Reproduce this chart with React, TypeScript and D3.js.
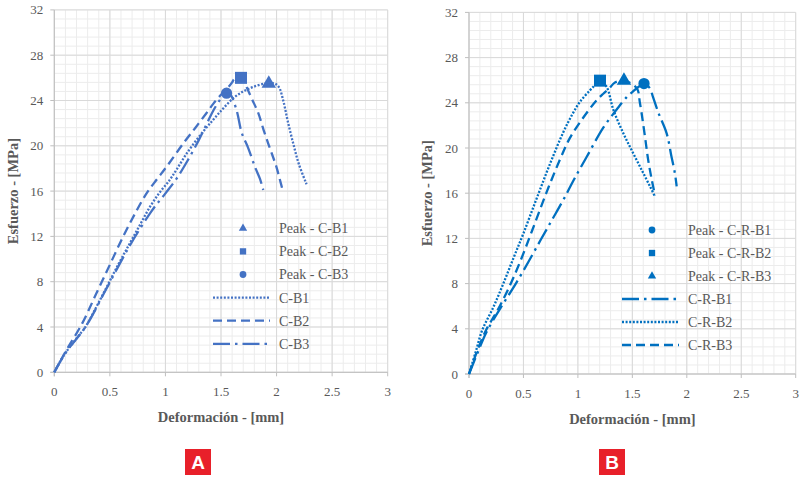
import React from 'react';
import * as d3 from 'd3';

type Pt = [number, number];

const xTicks = [0, 0.5, 1, 1.5, 2, 2.5, 3];
const yTicks = [0, 4, 8, 12, 16, 20, 24, 28, 32];
const xTickLabels = ['0', '0.5', '1', '1.5', '2', '2.5', '3'];
const yTickLabels = ['0', '4', '8', '12', '16', '20', '24', '28', '32'];

// Panel A series
const cB1: Pt[] = [[0, 0], [0.05, 0.9], [0.1, 1.7], [0.2, 3.0], [0.28, 4], [0.38, 5.8], [0.47, 7.5], [0.58, 9.6], [0.68, 11.4], [0.77, 13.0], [0.86, 14.6], [0.95, 15.9], [1.04, 17.0], [1.1, 17.9], [1.19, 19.3], [1.31, 20.9], [1.43, 22.3], [1.52, 23.3], [1.61, 24.2], [1.7, 24.8], [1.79, 25.2], [1.9, 25.5], [1.98, 25.5], [2.02, 25.2], [2.06, 24.0], [2.1, 22.2], [2.15, 20.2], [2.2, 18.4], [2.27, 16.6]];
const cB2: Pt[] = [[0, 0], [0.1, 1.8], [0.25, 4.3], [0.38, 7.0], [0.5, 9.5], [0.62, 12.0], [0.72, 13.9], [0.83, 15.8], [0.92, 17.0], [1.01, 18.15], [1.16, 20.2], [1.27, 21.6], [1.37, 22.9], [1.43, 23.7], [1.5, 24.5], [1.56, 25.1], [1.6, 25.6], [1.62, 25.9], [1.69, 26.0], [1.73, 25.2], [1.78, 24.1], [1.835, 22.9], [1.88, 21.5], [1.925, 20.2], [1.965, 19.1], [2.0, 18.1], [2.03, 17.0], [2.06, 15.9]];
const cB3: Pt[] = [[0, 0], [0.1, 1.7], [0.28, 4], [0.47, 7.4], [0.68, 11.2], [0.88, 14.3], [1.0, 15.8], [1.1, 17.1], [1.2, 18.7], [1.3, 20.5], [1.37, 21.9], [1.43, 23.1], [1.5, 24.2], [1.544, 24.76], [1.58, 24.6], [1.64, 23.15], [1.685, 21.2], [1.745, 19.8], [1.805, 18.15], [1.85, 17.1], [1.88, 16.1]];
const peakNamesA = ['Peak - C-B1', 'Peak - C-B2', 'Peak - C-B3'];
const peakXA = [1.93, 1.68, 1.55];
const peakYA = [25.5, 26.0, 24.65];
const lineNamesA = ['C-B1', 'C-B2', 'C-B3'];

// Panel B series
const cRB1: Pt[] = [[0, 0], [0.08, 1.9], [0.16, 3.7], [0.3, 6.0], [0.43, 8.0], [0.55, 10.0], [0.66, 11.9], [0.76, 13.6], [0.866, 15.4], [0.958, 17.1], [1.08, 19.2], [1.233, 21.8], [1.356, 23.4], [1.448, 24.5], [1.5, 24.95], [1.555, 25.4], [1.607, 25.7], [1.66, 25.3], [1.69, 24.5], [1.74, 23.1], [1.815, 21.3], [1.86, 19.2], [1.89, 17.8], [1.907, 16.6]];
const cRB2: Pt[] = [[0, 0], [0.06, 1.9], [0.122, 3.9], [0.223, 5.9], [0.315, 8.0], [0.41, 10.3], [0.5, 12.45], [0.62, 15.5], [0.744, 18.6], [0.866, 21.4], [0.95, 23.0], [1.02, 24.1], [1.11, 25.1], [1.16, 25.6], [1.203, 25.96], [1.264, 25.4], [1.325, 23.4], [1.417, 21.3], [1.494, 19.8], [1.586, 18.05], [1.662, 16.6], [1.708, 15.7]];
const cRB3: Pt[] = [[0, 0], [0.07, 1.9], [0.157, 3.9], [0.26, 5.6], [0.36, 7.5], [0.468, 9.9], [0.58, 12.7], [0.713, 16.1], [0.836, 19.0], [0.927, 20.9], [1.05, 22.7], [1.17, 24.2], [1.233, 24.8], [1.29, 25.3], [1.34, 25.8], [1.423, 25.96], [1.54, 25.3], [1.57, 23.96], [1.616, 21.0], [1.646, 18.9], [1.678, 17.2], [1.708, 15.8]];
const peakNamesB = ['Peak - C-R-B1', 'Peak - C-R-B2', 'Peak - C-R-B3'];
const peakXB = [1.607, 1.203, 1.423];
const peakYB = [25.7, 25.96, 25.96];
const lineNamesB = ['C-R-B1', 'C-R-B2', 'C-R-B3'];

const FONT = "'Liberation Serif', 'DejaVu Serif', serif";
const GREY = '#595959';

type Panel = {
  x0: number; x1: number; yTop: number; yBot: number;
  color: string;
  series: Pt[][]; dashes: string[]; lineNames: string[];
  peakNames: string[]; peakX: number[]; peakY: number[]; shapes: d3.SymbolType[];
  legX: number; legY: number; legStep: number;
  yTitleX: number; badge: string; badgeX: number;
};

const dotted = '2 1.6';
const dashed = '9 5';
const dashDot = '17 5 2.5 5';

function ChartPanel({ p }: { p: Panel }) {
  const x = d3.scaleLinear().domain([0, 3]).range([p.x0, p.x1]);
  const y = d3.scaleLinear().domain([0, 32]).range([p.yBot, p.yTop]);
  const line = d3.line<Pt>().x(d => x(d[0])).y(d => y(d[1])).curve(d3.curveCatmullRom);
  const minorX = d3.range(0, 3.0001, 0.1);
  const minorY = d3.range(0, 32.0001, 0.8);
  const cx = (p.x0 + p.x1) / 2;
  const cy = (p.yTop + p.yBot) / 2;
  const bigSize = (s: d3.SymbolType) => (s === d3.symbolSquare ? 144 : s === d3.symbolCircle ? 100 : 90);
  const smallSize = (s: d3.SymbolType) => (s === d3.symbolSquare ? 40 : s === d3.symbolCircle ? 36 : 30);
  return (
    <g>
      {minorX.map((v, i) => <line key={'mx' + i} x1={x(v)} x2={x(v)} y1={p.yTop} y2={p.yBot} stroke="#ececec" strokeWidth={1} />)}
      {minorY.map((v, i) => <line key={'my' + i} y1={y(v)} y2={y(v)} x1={p.x0} x2={p.x1} stroke="#ececec" strokeWidth={1} />)}
      {xTicks.map((v, i) => <line key={'gx' + i} x1={x(v)} x2={x(v)} y1={p.yTop} y2={p.yBot} stroke="#d9d9d9" strokeWidth={1} />)}
      {yTicks.map((v, i) => <line key={'gy' + i} y1={y(v)} y2={y(v)} x1={p.x0} x2={p.x1} stroke="#d9d9d9" strokeWidth={1} />)}
      <line x1={p.x0} x2={p.x0} y1={p.yTop} y2={p.yBot + 4} stroke="#bfbfbf" />
      <line x1={p.x0 - 4} x2={p.x1} y1={p.yBot} y2={p.yBot} stroke="#bfbfbf" />
      {yTicks.map((v, i) => <line key={'ty' + i} x1={p.x0 - 4} x2={p.x0} y1={y(v)} y2={y(v)} stroke="#bfbfbf" />)}
      {xTicks.map((v, i) => <line key={'tx' + i} x1={x(v)} x2={x(v)} y1={p.yBot} y2={p.yBot + 4} stroke="#bfbfbf" />)}
      {yTicks.map((v, i) => (
        <text key={'ly' + i} x={p.x0 - 11} y={y(v)} dy="0.35em" textAnchor="end" fontFamily={FONT} fontSize={13} fill={GREY}>{yTickLabels[i]}</text>
      ))}
      {xTicks.map((v, i) => (
        <text key={'lx' + i} x={x(v)} y={p.yBot + 24} textAnchor="middle" fontFamily={FONT} fontSize={13} fill={GREY}>{xTickLabels[i]}</text>
      ))}
      {p.series.map((s, i) => (
        <path key={'s' + i} d={line(s) || ''} fill="none" stroke={p.color} strokeWidth={2.3} strokeDasharray={p.dashes[i]} />
      ))}
      {p.peakX.map((v, i) => (
        <path key={'pk' + i} transform={`translate(${x(v)},${y(p.peakY[i])})`} d={d3.symbol().type(p.shapes[i]).size(bigSize(p.shapes[i]))() || ''} fill={p.color} />
      ))}
      {p.peakNames.map((n, i) => {
        const ly = p.legY + i * p.legStep;
        return (
          <g key={'lp' + i}>
            <path transform={`translate(${p.legX + 30},${ly})`} d={d3.symbol().type(p.shapes[i]).size(smallSize(p.shapes[i]))() || ''} fill={p.color} />
            <text x={p.legX + 66} y={ly} dy="0.35em" fontFamily={FONT} fontSize={14} fill={GREY}>{n}</text>
          </g>
        );
      })}
      {p.lineNames.map((n, i) => {
        const ly = p.legY + (i + 3) * p.legStep;
        return (
          <g key={'ll' + i}>
            <line x1={p.legX} x2={p.legX + 57} y1={ly} y2={ly} stroke={p.color} strokeWidth={2.3} strokeDasharray={p.dashes[i]} />
            <text x={p.legX + 66} y={ly} dy="0.35em" fontFamily={FONT} fontSize={14} fill={GREY}>{n}</text>
          </g>
        );
      })}
      <text x={cx} y={p.yBot + 50} textAnchor="middle" fontFamily={FONT} fontWeight="bold" fontSize={14.5} fill={GREY}>Deformación - [mm]</text>
      <text transform={`translate(${p.yTitleX},${cy}) rotate(-90)`} textAnchor="middle" fontFamily={FONT} fontWeight="bold" fontSize={14.5} fill={GREY}>Esfuerzo - [MPa]</text>
      <rect x={p.badgeX} y={449} width={26} height={26} fill="#e8202a" />
      <text x={p.badgeX + 13} y={469} textAnchor="middle" fontFamily="'Liberation Sans Narrow', 'Liberation Sans', sans-serif" fontWeight="bold" fontSize={19} fill="#fff">{p.badge}</text>
    </g>
  );
}

export default function App() {
  const panelA: Panel = {
    x0: 54.3, x1: 387.7, yTop: 9.9, yBot: 372.3, color: '#4472C4',
    series: [cB1, cB2, cB3], dashes: [dotted, dashed, dashDot], lineNames: lineNamesA,
    peakNames: peakNamesA, peakX: peakXA, peakY: peakYA,
    shapes: [d3.symbolTriangle, d3.symbolSquare, d3.symbolCircle],
    legX: 213, legY: 228.3, legStep: 23.1, yTitleX: 18, badge: 'A', badgeX: 185,
  };
  const panelB: Panel = {
    x0: 469, x1: 795.7, yTop: 12.4, yBot: 374, color: '#0070C0',
    series: [cRB1, cRB2, cRB3], dashes: [dashDot, dotted, dashed], lineNames: lineNamesB,
    peakNames: peakNamesB, peakX: peakXB, peakY: peakYB,
    shapes: [d3.symbolCircle, d3.symbolSquare, d3.symbolTriangle],
    legX: 622, legY: 230, legStep: 23, yTitleX: 432, badge: 'B', badgeX: 599,
  };
  return (
    <svg width={802} height={482} style={{ position: 'absolute', left: 0, top: 0, background: '#fff' }}>
      <rect width={802} height={482} fill="#fff" />
      <ChartPanel p={panelA} />
      <ChartPanel p={panelB} />
    </svg>
  );
}
